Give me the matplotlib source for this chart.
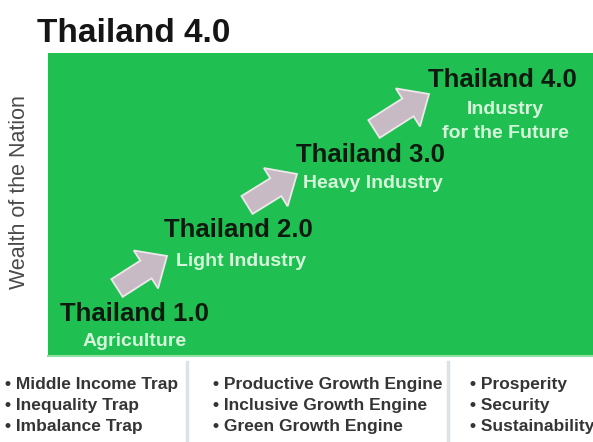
import matplotlib
matplotlib.use("Agg")
import matplotlib.pyplot as plt
from matplotlib.patches import Rectangle, FancyArrow

# ---- content ----
chart_title = "Thailand 4.0"
axis_label = "Wealth of the Nation"
stages = ["Thailand 1.0", "Thailand 2.0", "Thailand 3.0", "Thailand 4.0"]
stage_subtitles = [["Agriculture"], ["Light Industry"], ["Heavy Industry"], ["Industry", "for the Future"]]
col_traps = ["Middle Income Trap", "Inequality Trap", "Imbalance Trap"]
col_engines = ["Productive Growth Engine", "Inclusive Growth Engine", "Green Growth Engine"]
col_goals = ["Prosperity", "Security", "Sustainability"]

# ---- layout (pixel coordinates) ----
W, H = 593, 442
stage_pos = [(134, 321), (238, 237), (370, 162), (502, 87)]
sub_pos = [(135, 346), (241, 266), (373, 188), (505, 114)]
sub_line_gap = 24
arrows = [((117, 288), (167, 256)), ((247, 205), (297, 174)), ((374, 129), (429, 94))]
col_x = [5, 213, 470]
row_y = [389, 410, 431]

FONT = "Liberation Sans"

fig = plt.figure(figsize=(W / 100, H / 100), dpi=100)
ax = fig.add_axes([0, 0, 1, 1])
ax.set_xlim(0, W)
ax.set_ylim(H, 0)
ax.axis("off")

# green panel
ax.add_patch(Rectangle((48, 53), W - 48 + 5, 355 - 53, facecolor="#1fc051", edgecolor="none"))
ax.plot([48, W], [355.5, 355.5], color="#8fe0a2", lw=1.5)

# title
ax.text(37, 42, chart_title, fontsize=24, fontweight="bold", family=FONT,
        color="#151515", ha="left", va="baseline")

# y label
ax.text(20, 192, axis_label, fontsize=15.5, family=FONT, color="#4a4a4a",
        rotation=90, ha="center", va="center")

# arrows
for (x0, y0), (x1, y1) in arrows:
    dx, dy = x1 - x0, y1 - y0
    ax.add_patch(FancyArrow(x0, y0, dx, dy, width=21, head_width=45, head_length=25,
                            length_includes_head=True, facecolor="#c8bac4",
                            edgecolor="#eee8ec", lw=1.3))

# stage labels
for name, (x, y) in zip(stages, stage_pos):
    ax.text(x, y, name, fontsize=18.5, fontweight="bold", family=FONT,
            color="#0e1a10", ha="center", va="baseline")
for lines, (x, y) in zip(stage_subtitles, sub_pos):
    for k, line in enumerate(lines):
        ax.text(x, y + k * sub_line_gap, line, fontsize=14, fontweight="bold", family=FONT,
                color="#d5f5da", ha="center", va="baseline")

# separators
for sx in [187, 448]:
    ax.plot([sx, sx], [362, H], color="#d4dde0", lw=2.5, alpha=0.8)

# bottom bullet columns
for cx, items in zip(col_x, [col_traps, col_engines, col_goals]):
    for ry, item in zip(row_y, items):
        ax.text(cx, ry, "\u2022 " + item, fontsize=12.5, fontweight="bold", family=FONT,
                color="#353535", ha="left", va="baseline")

fig.savefig("out.png", dpi=100)
